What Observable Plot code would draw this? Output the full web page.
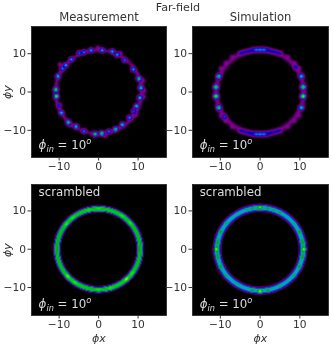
<!DOCTYPE html>
<html>
<head>
<meta charset="utf-8">
<script src="https://cdn.jsdelivr.net/npm/d3@7"></script>
<script src="https://cdn.jsdelivr.net/npm/@observablehq/plot@0.6"></script>
<style>
html,body{margin:0;padding:0;background:#fff}
#chart{position:relative;width:332px;height:345px;overflow:hidden;font-family:"DejaVu Sans",sans-serif;color:#333;filter:blur(.3px)}
#chart svg{position:absolute;overflow:visible;background:transparent}
#ff{position:absolute;left:178px;top:1px;transform:translateX(-50%);font-size:11.2px;white-space:nowrap}
</style>
</head>
<body>
<div id="chart"><div id="ff">Far-field</div></div>
<script>
const ticks = [-10, 0, 10];
const panelTitles = ["Measurement", "Simulation", "", ""];
const topNotes = ["", "", "scrambled", "scrambled"];
const angleNote = "ϕin = 10o";
const xLabel = "ϕx", yLabel = "ϕy";

// nipy_spectral colour stops
const colourStops = [0,.05,.1,.15,.2,.25,.3,.35,.4,.45,.5,.55,.6,.65,.7,.75,.8,.85,.9,.95,1];
const colours = ["#000000","#770088","#880099","#0000aa","#0000dd","#0077dd","#0099dd","#00aaaa","#00aa88","#009900","#00bb00","#00dd00","#00ff00","#bbff00","#eeee00","#ffcc00","#ff9900","#ff0000","#dd0000","#cc0000","#cccccc"];

// Ring level every 30 degrees, counter-clockwise from +x
const measurementRing = [.05,.05,.04,.04,.04,.05,.05,.05,.04,.04,.05,.05];
const simulationRing  = [.05,.05,.05,.07,.05,.05,.05,.05,.05,.07,.05,.05];
const scrambledMRing  = [.5,.53,.54,.53,.54,.52,.5,.53,.55,.52,.55,.53];
const scrambledSRing  = [.42,.36,.34,.38,.34,.36,.42,.36,.34,.38,.34,.36];

// Bright spots: x, y, level
const measurementSpots = [[.9,10.9,.3],[3.5,10.6,.34],[4.7,9.7,.28],[6.6,8.3,.25],[8.8,5.9,.3],[10.2,3.5,.45],[10.7,1.1,.45],[10.4,-1.5,.38],[9.6,-3.7,.42],[8.9,-5,.25],[7.8,-6.7,.3],[6,-8.5,.4],[4.3,-9.7,.48],[2.6,-10.3,.25],[.8,-10.8,.5],[-.9,-11,.52],[-3.7,-10.2,.25],[-5.7,-9,.4],[-7.7,-7.9,.4],[-9.4,-5.4,.35],[-10,-3.5,.2],[-10.7,-1.1,.6],[-10.8,.6,.55],[-10.3,4.1,.4],[-9.2,6.1,.25],[-8.3,7,.3],[-6.9,8.5,.3],[-4.9,10.2,.25],[-3.7,10.4,.25],[-1.9,10.9,.3],[11.4,-1.2,.08],[11.2,3,.09],[11.5,.4,.08],[9.4,-6,.08],[-7.3,-8.6,.08],[5.5,10.1,.08],[-.2,11.5,.08],[1.6,-11.4,.07],[-9.8,7.2,.07]];
const simulationSpots = [[0,11,.2],[-1,11,.2],[1,11,.2],[-2,10.9,.14],[2,10.9,.14],[-3,10.6,.11],[3,10.6,.11],[-4,10.4,.12],[4,10.4,.12],[-5,10.1,.12],[5,10.1,.12],[0,-11,.2],[-1,-11,.2],[1,-11,.2],[-2,-10.9,.14],[2,-10.9,.14],[-3,-10.6,.11],[3,-10.6,.11],[-4,-10.4,.12],[4,-10.4,.12],[-5,-10.1,.12],[5,-10.1,.12],[-10.4,4.1,.46],[-11.1,1.3,.56],[-11.1,-1.1,.6],[-10.4,-4.1,.5],[-9,-6.5,.2],[10.4,4.1,.36],[10.8,1.3,.56],[10.8,-1.1,.64],[10.4,-4.1,.4],[8.9,6.5,.16],[-8.7,7.6,.05],[8.7,7.6,.05],[-8.7,-7.6,.05],[8.7,-7.6,.05],[-7,9.2,.05],[7,9.2,.05],[-7,-9.2,.05],[7,-9.2,.05],[-9.9,6.2,.05],[9.9,6.2,.05],[-9.9,-6.2,.05],[9.9,-6.2,.05]];
const scrambledMSpots = [[-8,6.5,.1],[-6.6,8.2,.07],[8,6.8,.07],[6,8.8,.06],[-7.8,-7,.1],[-6,-8.6,.06],[7,-7.7,.12],[8.5,-6.2,.07],[0,10.6,.06],[0,-10.6,.07],[-2.4,10.3,.05],[3,-10.2,.06]];
const scrambledSSpots = [[11.1,0,.26],[-11.1,0,.26],[0,11,.26],[0,-11,.3],[10.8,2,.1],[-10.8,2,.1],[10.8,-2,.1],[-10.8,-2,.1],[-2,10.8,.08],[2,10.8,.08],[-2,-10.8,.1],[2,-10.8,.1],[-10,4.6,.12],[10,4.6,.1],[-8.6,6.9,.08],[8.6,6.9,.08],[-5.5,9.2,.07],[5,9.6,.1],[-3.2,10.3,.07],[3.5,10.2,.08],[-10,-4.6,.12],[10,-4.6,.1],[-8.6,-6.9,.08],[8.6,-6.9,.08],[-5.5,-9.2,.07],[5,-9.6,.08]];

const panels = [
  {left:0,   w:135, top:26,  yd:[-17.1,17.1], ring:measurementRing, spots:measurementSpots, R:10.9, s:.5, ss:.38, pow:2, i:0},
  {left:161, w:136, top:26,  yd:[-17.1,17.1], ring:simulationRing,  spots:simulationSpots,  R:11,   s:.65,ss:.4,  pow:2, i:1},
  {left:0,   w:135, top:184, yd:[-17.3,16.9], ring:scrambledMRing,  spots:scrambledMSpots,  R:10.55,s:.65,ss:.4,  pow:3, i:2},
  {left:161, w:136, top:184, yd:[-17.3,16.9], ring:scrambledSRing,  spots:scrambledSSpots,  R:10.8, s:.75,ss:.35, pow:3, i:3}
];

function field(p){
  return (x,y)=>{
    const r=Math.hypot(x,y);
    const a=(Math.atan2(y,x)*180/Math.PI+360)%360;
    const k=a/30, k0=Math.floor(k)%12, k1=(k0+1)%12, t=k-Math.floor(k);
    const amp=p.ring[k0]*(1-t)+p.ring[k1]*t;
    let v=amp*Math.exp(-Math.pow(Math.abs(r-p.R)/p.s,p.pow));
    for(const [sx,sy,sv] of p.spots){
      const d2=(x-sx)**2+(y-sy)**2;
      if(d2<9) v+=sv*Math.exp(-d2/(2*p.ss*p.ss));
    }
    return Math.min(v,.99);
  };
}

const chart=document.getElementById("chart");
for(const p of panels){
  const bottomRow=p.i>=2, leftCol=p.i%2===0;
  const xd=[-17,17.2];
  const svg=Plot.plot({
    width:31+p.w+2, height:131+30+26,
    marginLeft:31, marginRight:2, marginTop:26, marginBottom:30,
    style:{fontFamily:'"DejaVu Sans",sans-serif',fontSize:"10.7px",background:"transparent",color:"#333"},
    x:{domain:xd},
    y:{domain:p.yd},
    color:{type:"linear",domain:colourStops,range:colours,clamp:true},
    marks:[
      Plot.raster({fill:field(p),x1:xd[0],x2:xd[1],y1:p.yd[0],y2:p.yd[1],pixelSize:1}),
      Plot.frame({stroke:"#222",strokeWidth:.8}),
      Plot.axisX({ticks,tickSize:3.5,tickPadding:1.5,tickFormat:d=>d<0?"−"+(-d):d,label:bottomRow?xLabel:null,labelAnchor:"center",labelArrow:"none",labelOffset:26,stroke:"#333"}),
      Plot.axisY({ticks,tickSize:3.5,tickPadding:2,tickFormat:d=>d<0?"−"+(-d):d,label:leftCol?yLabel:null,labelAnchor:"center",labelArrow:"none",labelOffset:28,stroke:"#333"}),
      Plot.text([angleNote],{x:-15.2,y:p.i<2?-13.9:-14.3,text:d=>d,textAnchor:"start",fill:"#dddddd",fontSize:11.8}),
      Plot.text([topNotes[p.i]],{x:-15.2,y:15,text:d=>d,textAnchor:"start",fill:"#dddddd",fontSize:11.8}),
      Plot.text([panelTitles[p.i]],{frameAnchor:"top",dy:-10,text:d=>d,fontSize:11.6,fill:"#333"})
    ]
  });
  svg.style.left=p.left+"px";
  svg.style.top=(p.top-26)+"px";
  svg.querySelectorAll("text").forEach(t=>{
    const c=t.textContent;
    if(c===angleNote){
      const host=t.querySelector("tspan")||t;
      host.textContent="";
      const ns="http://www.w3.org/2000/svg";
      [["ϕ","italic",null,0],["in","italic",8.2,3],[" = 10",null,null,-3],["o","italic",8.2,-5]].forEach(([s,st,fs,dy])=>{
        const e=document.createElementNS(ns,"tspan");
        e.textContent=s;
        if(st)e.setAttribute("font-style",st);
        if(fs)e.setAttribute("font-size",fs);
        if(dy)e.setAttribute("dy",dy);
        host.appendChild(e);
      });
    } else if(c===panelTitles[p.i]&&c){
      t.setAttribute("dy","-4");
      t.querySelectorAll("tspan").forEach(s=>s.setAttribute("dy","-4"));
    } else if(c===xLabel||c===yLabel){
      t.setAttribute("font-style","italic");
      t.setAttribute("font-size","11");
    }
  });
  chart.appendChild(svg);
}
</script>
</body>
</html>
